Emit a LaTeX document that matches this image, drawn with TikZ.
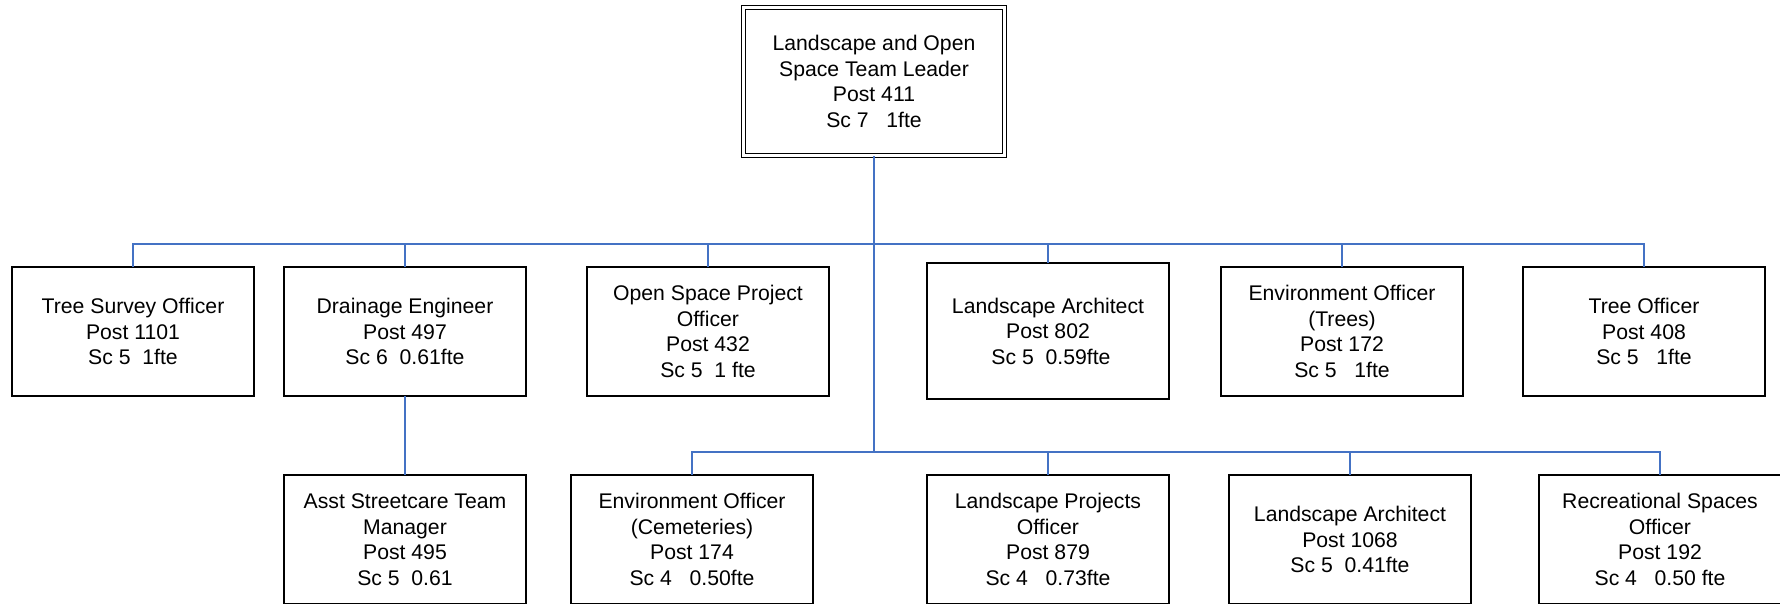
\documentclass[tikz,border=0pt]{standalone}
\usepackage{fontspec}
\setmainfont{Liberation Sans}
\definecolor{linkblue}{RGB}{68,114,196}

\begin{document}
\begin{tikzpicture}[x=1pt, y=-1pt, font=\fontsize{21.2}{25.5}\selectfont]
    \def\bw{242pt}
    \def\bh{129pt}

    \tikzset{post/.style={
        draw=black,
        line width=1.3pt,
        inner sep=0pt,
        outer sep=0pt,
        minimum width=\bw,
        minimum height=\bh,
        align=center,
        anchor=north west
    }}
    \tikzset{lead/.style={
        draw=black,
        double,
        double distance=3.2pt,
        line width=1.3pt,
        minimum width=261pt,
        minimum height=148pt,
        align=center
    }}
    \tikzset{link/.style={draw=linkblue, line width=1.6pt}}

    \useasboundingbox (0,0) rectangle (1780,604);

    % team leader
    \node[lead] (lead) at (874,81.5) {Landscape and Open\\Space Team Leader\\Post 411\\Sc 7\ \ \ 1fte};

    % 1st row
    \node[post] (tso)   at (12,267)   {Tree Survey Officer\\Post 1101\\Sc 5\ \ 1fte};
    \node[post] (dre)   at (284,267)  {Drainage Engineer\\Post 497\\Sc 6\ \ 0.61fte};
    \node[post] (ospo)  at (587,267)  {Open Space Project\\Officer\\Post 432\\Sc 5\ \ 1 fte};
    \node[post, minimum height=136pt] (la802) at (927,263) {Landscape Architect\\Post 802\\\ Sc 5\ \ 0.59fte};
    \node[post] (eot)   at (1221,267) {Environment Officer\\(Trees)\\Post 172\\Sc 5\ \ \ 1fte};
    \node[post] (tro)   at (1523,267) {Tree Officer\\Post 408\\Sc 5\ \ \ 1fte};

    % 2nd row
    \node[post] (asm)    at (284,475)  {Asst Streetcare Team\\Manager\\Post 495\\Sc 5\ \ 0.61};
    \node[post] (eoc)    at (571,475)  {Environment Officer\\(Cemeteries)\\Post 174\\Sc 4\ \ \ 0.50fte};
    \node[post] (lpo)    at (927,475)  {Landscape Projects\\Officer\\Post 879\\Sc 4\ \ \ 0.73fte};
    \node[post] (la1068) at (1229,475) {Landscape Architect\\Post 1068\\Sc 5\ \ 0.41fte};
    \node[post] (rso)    at (1539,475) {Recreational Spaces\\Officer\\Post 192\\Sc 4\ \ \ 0.50 fte};

    \coordinate (topbus) at (874,244);
    \coordinate (lowbus) at (874,452);

    % connectors
    \draw[link] (lead.south) -- (lowbus);
    \draw[link] (tso.north) |- (topbus) -| (tro.north);
    \draw[link] (dre.north) -- (dre.north |- topbus);
    \draw[link] (ospo.north) -- (ospo.north |- topbus);
    \draw[link] (la802.north) -- (la802.north |- topbus);
    \draw[link] (eot.north) -- (eot.north |- topbus);
    \draw[link] (dre.south) -- (asm.north);
    \draw[link] (eoc.north) |- (lowbus) -| (rso.north);
    \draw[link] (lpo.north) -- (lpo.north |- lowbus);
    \draw[link] (la1068.north) -- (la1068.north |- lowbus);

\end{tikzpicture}
\end{document}
